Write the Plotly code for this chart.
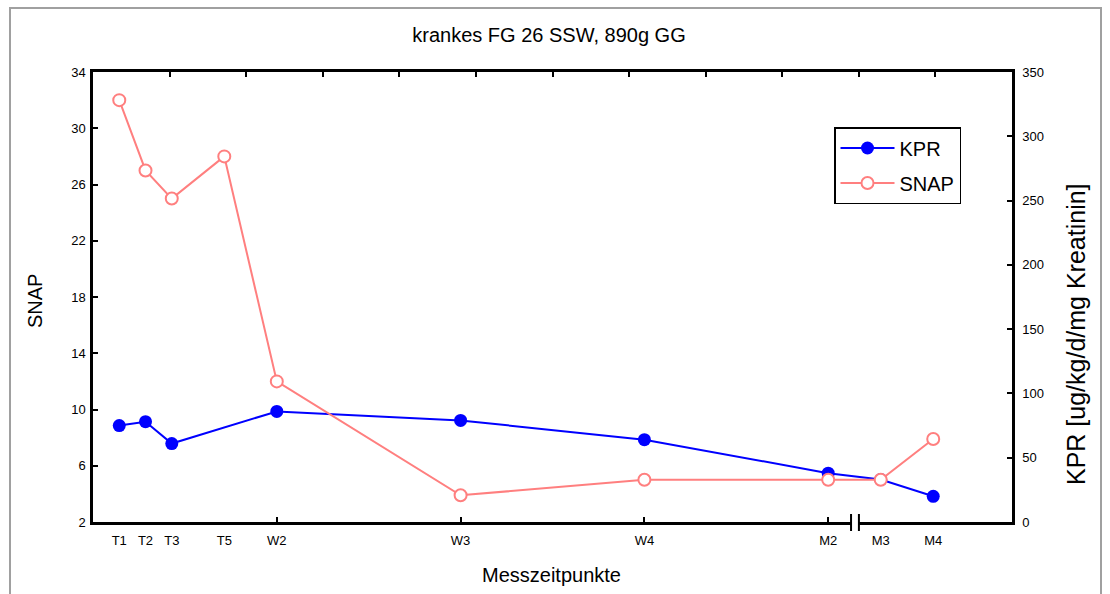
import plotly.graph_objects as go

# ---- data ----
categories = ["T1", "T2", "T3", "T5", "W2", "W3", "W4", "M2", "M3", "M4"]
day_pos = [1, 2, 3, 5, 7, 14, 21, 28, 30, 32]          # time axis position of each category
kpr = [75, 78, 61, 86, 79, 64, 38, 33, 20]
kpr_x = [1, 2, 3, 7, 14, 21, 28, 30, 32]
snap = [32, 27, 25, 28, 12, 3.9, 5, 5, 5, 7.9]
left_ticks = [2, 6, 10, 14, 18, 22, 26, 30, 34]
right_ticks = [0, 50, 100, 150, 200, 250, 300, 350]
week_ticks = [7, 14, 21, 28]

FONT = "Liberation Sans, Arial, sans-serif"
W, H = 1110, 594
L, R, T, B = 93, 98, 72, 72
pw, ph = W - L - R, H - T - B

def px(xp):
    return (xp - L) / pw

def py(yp):
    return 1 - (yp - T) / ph

fig = go.Figure()
fig.add_trace(go.Scatter(
    x=kpr_x, y=kpr, name="KPR", mode="lines+markers", legendgroup="a",
    line=dict(color="#0000ff", width=2),
    marker=dict(symbol="circle", size=13, color="#0000ff"),
    xaxis="x", yaxis="y"))
fig.add_trace(go.Scatter(
    x=day_pos, y=snap, name="SNAP", mode="lines+markers", legendgroup="b",
    line=dict(color="#ff7f7f", width=2),
    marker=dict(symbol="circle", size=12, color="white",
                line=dict(color="#ff7f7f", width=2)),
    xaxis="x", yaxis="y2"))

axcommon = dict(showgrid=False, zeroline=False, linecolor="black", linewidth=2.5,
                tickcolor="black", tickwidth=2, ticklen=5, ticks="inside")

fig.update_layout(
    width=W, height=H,
    margin=dict(l=L, r=R, t=T, b=B, pad=0),
    paper_bgcolor="white", plot_bgcolor="white",
    font=dict(family=FONT, color="black"),
    title=dict(text="krankes FG 26 SSW, 890g GG", x=(549) / W, xanchor="center",
               y=1 - 35 / H, yanchor="middle", yref="container",
               font=dict(size=20, family=FONT, color="black")),
    xaxis=dict(range=[0, 35], tickvals=day_pos, ticktext=categories,
               showline=True, ticks="", showgrid=False, zeroline=False,
               linecolor="black", linewidth=2.5, ticklabelstandoff=5,
               tickfont=dict(size=13, family=FONT, color="black")),
    xaxis2=dict(range=[0, 12], dtick=1, overlaying="x", side="top",
                showticklabels=False, showline=True, **axcommon),
    xaxis3=dict(range=[0, 35], tickvals=week_ticks, overlaying="x", side="bottom",
                showticklabels=False, showline=False, **axcommon),
    yaxis=dict(range=[0, 350], tickvals=right_ticks, side="right", showline=True,
               ticklabelstandoff=5,
               tickfont=dict(size=13, family=FONT, color="black"), **axcommon),
    yaxis2=dict(range=[2, 34], tickvals=left_ticks, side="left", overlaying="y",
                showline=True, ticklabelstandoff=2,
                tickfont=dict(size=13, family=FONT, color="black"),
                **axcommon),
    legend=dict(x=px(834), y=py(127), xanchor="left", yanchor="top",
                bordercolor="black", borderwidth=1.5, bgcolor="white",
                itemwidth=54, tracegroupgap=6,
                font=dict(size=20, family=FONT, color="black")),
    showlegend=True,
)

# dummy invisible trace to activate xaxis2 / xaxis3
fig.add_trace(go.Scatter(x=[None], y=[None], xaxis="x2", yaxis="y", showlegend=False, hoverinfo="skip"))
fig.add_trace(go.Scatter(x=[None], y=[None], xaxis="x3", yaxis="y", showlegend=False, hoverinfo="skip"))

# axis titles
fig.add_annotation(text="Messzeitpunkte", xref="paper", yref="paper", x=px(551), y=py(575),
                   showarrow=False, font=dict(size=20, family=FONT, color="black"),
                   xanchor="center", yanchor="middle")
fig.add_annotation(text="SNAP", xref="paper", yref="paper", x=px(35), y=py(301),
                   showarrow=False, textangle=-90, font=dict(size=20, family=FONT, color="black"),
                   xanchor="center", yanchor="middle")
fig.add_annotation(text="KPR [ug/kg/d/mg Kreatinin]", xref="paper", yref="paper",
                   x=px(1076), y=py(334), showarrow=False, textangle=-90,
                   font=dict(size=25, family=FONT, color="black"),
                   xanchor="center", yanchor="middle")

# axis break mark between M2 and M3
fig.add_shape(type="rect", xref="x", yref="paper", x0=28.9, x1=29.15, y0=-0.01, y1=0.01,
              line=dict(width=0), fillcolor="white", layer="above")
for xb in (28.87, 29.17):
    fig.add_shape(type="line", xref="x", yref="paper", x0=xb, x1=xb, y0=py(514), y1=py(531),
                  line=dict(color="black", width=2), layer="above")

# outer frame
fig.add_shape(type="rect", xref="paper", yref="paper", x0=px(10), x1=px(1101), y0=py(600), y1=py(8),
              line=dict(color="#a0a0a0", width=2), fillcolor="rgba(0,0,0,0)", layer="above")

fig.write_html("out.html")
